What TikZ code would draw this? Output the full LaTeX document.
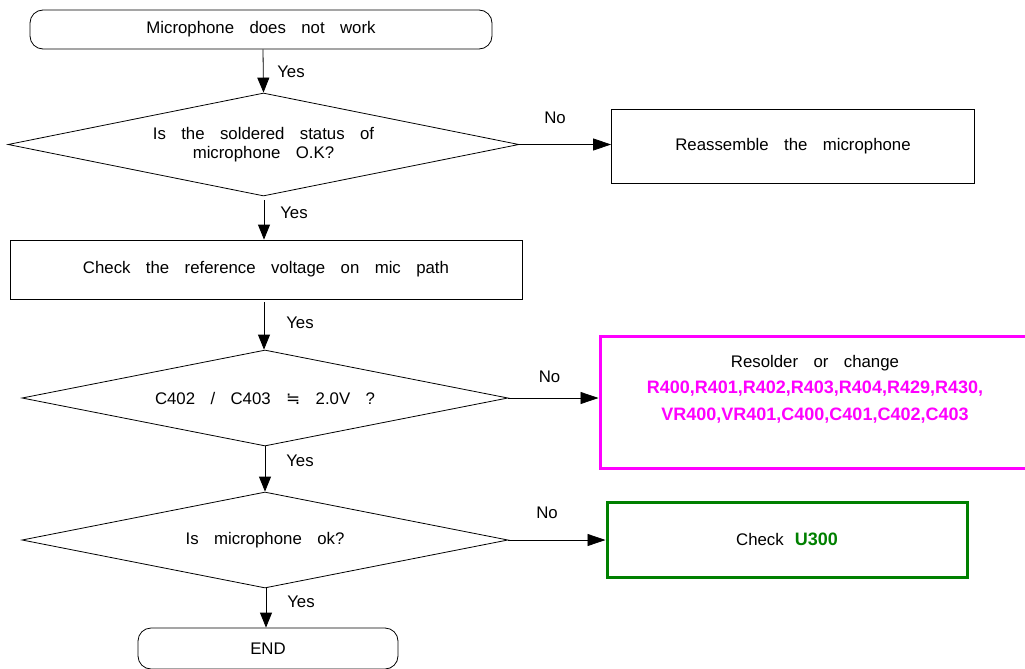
\documentclass[tikz,border=0pt]{standalone}
\usepackage{fontspec}
\setmainfont[WordSpace=3.3]{Liberation Sans}
\newfontfamily\symfont{DejaVu Sans}
\usetikzlibrary{shapes.geometric,arrows.meta}
\definecolor{mag}{RGB}{255,0,255}
\definecolor{grn}{RGB}{0,128,0}
\tikzset{
  term/.style={draw, rounded corners=13pt, inner sep=0pt},
  dia/.style={draw, diamond, inner sep=0pt, align=center},
  boxn/.style={draw, rectangle, inner sep=0pt},
  varr/.style={-{Triangle[length=15pt,width=12pt]}},
  harr/.style={-{Triangle[length=18pt,width=12pt]}},
  lbl/.style={inner sep=0pt},
}
\begin{document}
\begin{tikzpicture}[x=1pt,y=-1pt,line width=0.8pt,
  every node/.style={font=\fontsize{16.8}{19}\selectfont}]
\useasboundingbox (0,0) rectangle (1025,669);

\node[term, minimum width=462pt, minimum height=39pt] (start) at (261,29.5) {Microphone does not work};
\node[dia, aspect=4.961, minimum width=511pt, minimum height=103pt] (d1) at (263.5,144.5) {Is the soldered status of\\microphone O.K?};
\node[boxn, minimum width=363pt, minimum height=74pt] (r1) at (793,146) {Reassemble the microphone};
\node[boxn, minimum width=512pt, minimum height=59pt] (c1) at (266,269.5) {Check the reference voltage on mic path};
\node[dia, aspect=5.0625, minimum width=486pt, minimum height=96pt] (d2) at (265,398) {C402 / C403 {\symfont ≒} 2.0V ?};
\node[boxn, draw=mag, line width=3pt, minimum width=430pt, minimum height=132pt] (r2) at (815,402) {};
\node[align=center, inner sep=0pt, font=\fontsize{16.8}{26.5}\selectfont] (r2t) at (815,389)
  {Resolder or change\\
   \textcolor{mag}{\bfseries\fontsize{18}{26.5}\selectfont R400,R401,R402,R403,R404,R429,R430,}\\
   \textcolor{mag}{\bfseries\fontsize{18}{26.5}\selectfont VR400,VR401,C400,C401,C402,C403}};
\node[dia, aspect=5.0625, minimum width=486pt, minimum height=96pt] (d3) at (265,540) {Is microphone ok?};
\node[boxn, draw=grn, line width=3pt, minimum width=360pt, minimum height=75pt] (r3) at (787,539.5)
  {Check\hspace{11pt}\textcolor{grn}{\bfseries\fontsize{18}{20}\selectfont U300}};
\node[term, minimum width=260pt, minimum height=41pt] (end) at (268,648.5) {END};

% connectors
\draw[varr] (start.south -| 263,0) -- (d1.north);
\draw[harr] (d1.east) -- (r1.west |- d1.east);
\draw[varr] ([yshift=-4pt]d1.south -| 264,0) -- (c1.north -| 264,0);
\draw[varr] ([yshift=-3pt]c1.south -| 264,0) -- (d2.north -| 264,0);
\draw[harr] (d2.east) -- (r2.west |- d2.east);
\draw[varr] (d2.south) -- (d3.north);
\draw[harr] (d3.east) -- (r3.west |- d3.east);
\draw[varr] (d3.south -| 266,0) -- (end.north -| 266,0);

% labels
\node[lbl] (y1) at (291,72) {Yes};
\node[lbl] (y2) at (294,213) {Yes};
\node[lbl] (y3) at (300,323) {Yes};
\node[lbl] (y4) at (300,461) {Yes};
\node[lbl] (y5) at (301,602) {Yes};
\node[lbl] (n1) at (555,118) {No};
\node[lbl] (n2) at (549.5,377) {No};
\node[lbl] (n3) at (547,513) {No};
\end{tikzpicture}
\end{document}
